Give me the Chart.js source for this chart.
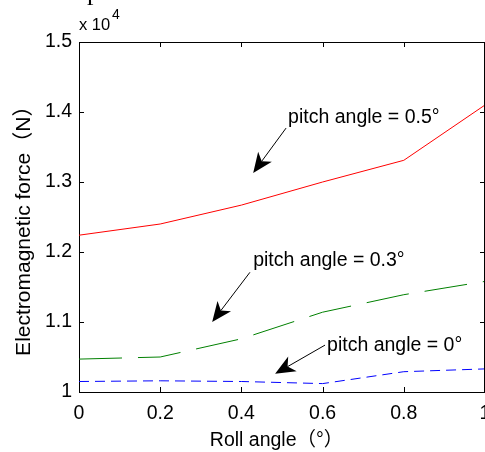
<!DOCTYPE html>
<html>
<head>
<meta charset="utf-8">
<script src="https://cdn.jsdelivr.net/npm/chart.js@4/dist/chart.umd.min.js"></script>
<style>
  body { margin: 0; background: #fff; }
  #c { display: block; }
</style>
</head>
<body>
<canvas id="c" width="485" height="452"></canvas>
<script>
// values in units of 10^4 N
const rollAngle = [0, 0.2, 0.4, 0.6, 0.8, 1];
const forcePitch05 = [1.224, 1.240, 1.267, 1.300, 1.331, 1.410];
const forcePitch03 = [1.047, 1.050, 1.076, 1.114, 1.139, 1.158];
const forcePitch00 = [1.015, 1.016, 1.015, 1.012, 1.029, 1.033];
const xTicks = [0, 0.2, 0.4, 0.6, 0.8, 1];
const yTicks = [1, 1.1, 1.2, 1.3, 1.4, 1.5];

// labels with arrows, in data coords
const notes = [
  { text: 'pitch angle = 0.5°', x: 0.515, y: 1.384, from: [0.510, 1.377], to: [0.429, 1.313] },
  { text: 'pitch angle = 0.3°', x: 0.429, y: 1.180, from: [0.421, 1.171], to: [0.328, 1.100] },
  { text: 'pitch angle = 0°',   x: 0.611, y: 1.058, from: [0.606, 1.067], to: [0.483, 1.026] }
];

const FONT = 'Liberation Sans, Arial, "Noto Sans CJK SC", sans-serif';

function pts(ys) {
  return rollAngle.map((x, i) => ({ x: x, y: ys[i] }));
}

// box, inward ticks, arrows and the exponent
const extras = {
  id: 'extras',
  afterDraw(chart) {
    const ctx = chart.ctx;
    const a = chart.chartArea;
    const xs = chart.scales.x, ys = chart.scales.y;
    ctx.save();
    ctx.strokeStyle = '#000';
    ctx.lineWidth = 1;
    ctx.beginPath();
    ctx.moveTo(a.left, a.top + 0.5); ctx.lineTo(a.right, a.top + 0.5);
    ctx.moveTo(a.right - 0.5, a.top); ctx.lineTo(a.right - 0.5, a.bottom);
    xTicks.forEach(v => {
      const px = Math.round(xs.getPixelForValue(v)) + 0.5;
      ctx.moveTo(px, a.bottom); ctx.lineTo(px, a.bottom - 5);
      ctx.moveTo(px, a.top); ctx.lineTo(px, a.top + 5);
    });
    yTicks.forEach(v => {
      const py = Math.round(ys.getPixelForValue(v)) + 0.5;
      ctx.moveTo(a.left, py); ctx.lineTo(a.left + 5, py);
      ctx.moveTo(a.right, py); ctx.lineTo(a.right - 5, py);
    });
    ctx.stroke();

    ctx.fillStyle = '#000';
    ctx.font = '19.5px ' + FONT;
    ctx.textBaseline = 'alphabetic';
    notes.forEach(n => {
      ctx.fillText(n.text, xs.getPixelForValue(n.x), ys.getPixelForValue(n.y));
      const x1 = xs.getPixelForValue(n.from[0]), y1 = ys.getPixelForValue(n.from[1]);
      const x2 = xs.getPixelForValue(n.to[0]), y2 = ys.getPixelForValue(n.to[1]);
      const len = Math.hypot(x2 - x1, y2 - y1);
      const ux = (x2 - x1) / len, uy = (y2 - y1) / len;
      const L = 20, W = 8.5, notch = 0.72;
      ctx.beginPath();
      ctx.moveTo(x1, y1);
      ctx.lineTo(x2 - ux * L * notch, y2 - uy * L * notch);
      ctx.stroke();
      ctx.beginPath();
      ctx.moveTo(x2, y2);
      ctx.lineTo(x2 - ux * L - uy * W, y2 - uy * L + ux * W);
      ctx.lineTo(x2 - ux * L * notch, y2 - uy * L * notch);
      ctx.lineTo(x2 - ux * L + uy * W, y2 - uy * L - ux * W);
      ctx.closePath();
      ctx.fill();
    });

    ctx.font = '16.5px ' + FONT;
    ctx.fillText('x 10', 79, 30);
    ctx.font = '14px ' + FONT;
    ctx.fillText('4', 112, 19);
    ctx.font = '26px Liberation Serif, serif';
    ctx.fillText('p', 87, 0);
    ctx.restore();
  }
};

new Chart(document.getElementById('c').getContext('2d'), {
  type: 'line',
  data: {
    datasets: [
      { data: pts(forcePitch05), borderColor: '#ff0000', borderWidth: 1, pointRadius: 0 },
      { data: pts(forcePitch03), borderColor: '#008000', borderWidth: 1, pointRadius: 0, borderDash: [43, 16] },
      { data: pts(forcePitch00), borderColor: '#0000ff', borderWidth: 1, pointRadius: 0, borderDash: [10, 6] }
    ]
  },
  options: {
    responsive: false,
    animation: false,
    devicePixelRatio: 1,
    layout: { padding: { top: 42, right: 0, left: 0, bottom: 0 } },
    plugins: { legend: { display: false }, tooltip: { enabled: false } },
    scales: {
      x: {
        type: 'linear',
        min: 0,
        max: 1,
        afterBuildTicks: s => { s.ticks = xTicks.map(v => ({ value: v })); },
        ticks: {
          color: '#000',
          font: { family: FONT, size: 19.5 },
          padding: 10,
          maxRotation: 0,
          callback: v => String(Math.round(v * 10) / 10)
        },
        grid: { display: false, drawTicks: false },
        border: { color: '#000', width: 1 },
        title: {
          display: true,
          text: 'Roll angle（°）  ',
          color: '#000',
          font: { family: FONT, size: 19.5 },
          padding: { top: 0, bottom: 0 }
        },
        afterFit: s => { s.height = 60; s.paddingLeft = 0; s.paddingRight = 0; }
      },
      y: {
        min: 1,
        max: 1.5,
        afterBuildTicks: s => { s.ticks = yTicks.map(v => ({ value: v })); },
        ticks: {
          color: '#000',
          font: { family: FONT, size: 19.5 },
          padding: 7,
          callback: v => String(Math.round(v * 10) / 10)
        },
        grid: { display: false, drawTicks: false },
        border: { color: '#000', width: 1 },
        title: {
          display: true,
          // trailing spaces push the label down a little, like the original
          text: 'Electromagnetic force（N）   ',
          color: '#000',
          font: { family: FONT, size: 21 },
          padding: { top: 12, bottom: 0 }
        },
        afterFit: s => { s.width = 79; s.paddingTop = 0; s.paddingBottom = 0; }
      }
    }
  },
  plugins: [extras]
});
</script>
</body>
</html>
